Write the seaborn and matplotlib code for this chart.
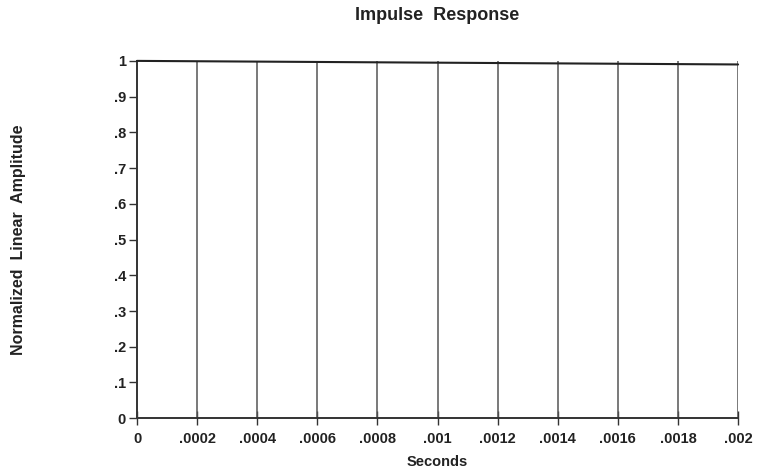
import matplotlib
matplotlib.use("Agg")
import matplotlib.pyplot as plt
import seaborn as sns
import pandas as pd

# Data
time_s = [0.0, 0.002]
amplitude = [1.0, 0.99]
x_ticks = [0, 0.0002, 0.0004, 0.0006, 0.0008, 0.001, 0.0012, 0.0014, 0.0016, 0.0018, 0.002]
x_tick_labels = ["0", ".0002", ".0004", ".0006", ".0008", ".001", ".0012", ".0014", ".0016", ".0018", ".002"]
y_ticks = [0, 0.1, 0.2, 0.3, 0.4, 0.5, 0.6, 0.7, 0.8, 0.9, 1.0]
y_tick_labels = ["0", ".1", ".2", ".3", ".4", ".5", ".6", ".7", ".8", ".9", "1"]

sns.set_style("white")
plt.rcParams["font.family"] = ["Liberation Sans", "DejaVu Sans"]

fig = plt.figure(figsize=(7.57, 4.72), dpi=100)
ax = fig.add_axes([0.181, 0.114, 0.794, 0.757])

df = pd.DataFrame({"Seconds": time_s, "Amplitude": amplitude})

# vertical grid lines at the x ticks
for xt in x_ticks[1:]:
    ax.axvline(xt, color="#555555", lw=1.1, zorder=1)

sns.lineplot(data=df, x="Seconds", y="Amplitude", ax=ax, color="#222222",
             lw=1.5, clip_on=False, zorder=3)

ax.set_xlim(0, 0.002)
ax.set_ylim(0, 1)
ax.set_xticks(x_ticks)
ax.set_xticklabels(x_tick_labels, fontsize=10.5, fontweight="bold", color="#222222")
ax.set_yticks(y_ticks)
ax.set_yticklabels(y_tick_labels, fontsize=10.5, fontweight="bold", color="#222222")

for side in ["top", "right"]:
    ax.spines[side].set_visible(False)
for side in ["left", "bottom"]:
    ax.spines[side].set_color("#333333")
    ax.spines[side].set_linewidth(1.4)

ax.tick_params(axis="y", left=True, direction="out", length=6, width=1,
               color="#333333", pad=2)
ax.tick_params(axis="x", bottom=True, direction="inout", length=10, width=1,
               color="#333333", pad=5)

ax.set_xlabel("Seconds", fontsize=10.5, fontweight="bold", color="#222222", va="center")
ax.xaxis.set_label_coords(0.5, -0.123)
ax.set_ylabel("Normalized  Linear  Amplitude", fontsize=11.5, fontweight="bold",
              color="#222222", va="center")
ax.yaxis.set_label_coords(-0.198, 0.5)
fig.text(0.578, 0.968, "Impulse  Response", fontsize=13, fontweight="bold",
         color="#222222", ha="center", va="center")

fig.savefig("out.png", dpi=100)
